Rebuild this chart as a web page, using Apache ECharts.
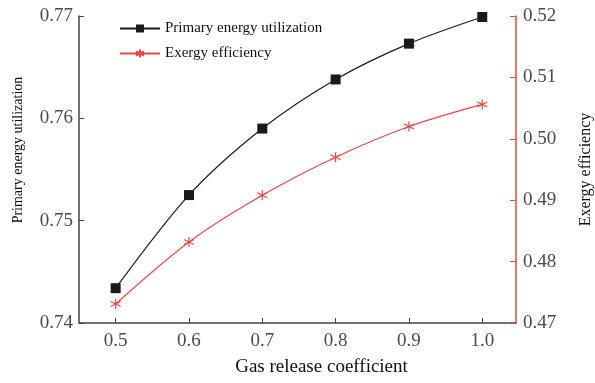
<!DOCTYPE html>
<html>
<head>
<meta charset="utf-8">
<script src="https://cdn.jsdelivr.net/npm/echarts@6/dist/echarts.min.js"></script>
<style>
  html, body { margin: 0; padding: 0; background: #fff; }
  #chart { width: 595px; height: 383px; }
</style>
</head>
<body>
<div id="chart"></div>
<script>
// Gas release coefficient (x) and the two performance indicators
const gasRelease = [0.5, 0.6, 0.7, 0.8, 0.9, 1.0];
const primaryEnergyUtilization = [0.7434, 0.7525, 0.7590, 0.7638, 0.7673, 0.7699];
const exergyEfficiency = [0.4731, 0.4832, 0.4908, 0.4970, 0.5020, 0.5056];
const xTicks = [0.5, 0.6, 0.7, 0.8, 0.9, 1.0];
const leftTicks = [0.74, 0.75, 0.76, 0.77];
const rightTicks = [0.47, 0.48, 0.49, 0.50, 0.51, 0.52];

const FONT = 'Liberation Serif';
const RED = '#e8474a';
const BLACK = '#1a1a1a';
const AXIS_GRAY = '#444';

// six-armed asterisk marker
const asterisk = 'path://M0,-5L0,5M-4.33,-2.5L4.33,2.5M-4.33,2.5L4.33,-2.5';

const chart = echarts.init(document.getElementById('chart'), null, { renderer: 'canvas' });

chart.setOption({
  backgroundColor: '#fff',
  animation: false,
  grid: { left: 79, right: 79, top: 16, bottom: 60, outerBoundsMode: 'none', containLabel: false },
  legend: {
    left: 114, top: 16,
    orient: 'vertical',
    itemWidth: 40, itemHeight: 10, itemGap: 10,
    textStyle: { fontFamily: FONT, fontSize: 15, color: '#111' },
    data: ['Primary energy utilization', 'Exergy efficiency']
  },
  xAxis: {
    type: 'value',
    min: 0.45, max: 1.046,
    name: 'Gas release coefficient',
    nameLocation: 'middle',
    nameGap: 35,
    nameTextStyle: { fontFamily: FONT, fontSize: 19, color: '#111', padding: [0, 0, 0, 48] },
    axisLine: { show: true, lineStyle: { color: AXIS_GRAY, width: 1.5 } },
    axisTick: { show: true, inside: true, length: 5, customValues: xTicks, lineStyle: { color: AXIS_GRAY } },
    axisLabel: {
      customValues: xTicks, margin: 9,
      formatter: v => v.toFixed(1),
      fontFamily: FONT, fontSize: 19, color: '#4a4a4a'
    },
    splitLine: { show: false }
  },
  yAxis: [
    {
      type: 'value', position: 'left',
      min: 0.74, max: 0.77, interval: 0.01,
      name: 'Primary energy utilization',
      nameLocation: 'middle', nameRotate: 90, nameGap: 54,
      nameTextStyle: { fontFamily: FONT, fontSize: 14, color: '#111', padding: [0, 0, 0, 39] },
      axisLine: { show: true, lineStyle: { color: AXIS_GRAY, width: 1.5 } },
      axisTick: { show: true, inside: true, length: 5, lineStyle: { color: AXIS_GRAY } },
      axisLabel: {
        margin: 6, formatter: v => v.toFixed(2),
        fontFamily: FONT, fontSize: 19, color: '#4a4a4a'
      },
      splitLine: { show: false }
    },
    {
      type: 'value', position: 'right',
      min: 0.47, max: 0.52, interval: 0.01,
      name: 'Exergy efficiency',
      nameLocation: 'middle', nameRotate: 90, nameGap: 62,
      nameTextStyle: { fontFamily: FONT, fontSize: 16, color: '#111' },
      axisLine: { show: true, lineStyle: { color: RED, width: 1.5 } },
      axisTick: { show: true, inside: true, length: 6, lineStyle: { color: RED } },
      axisLabel: {
        margin: 7, formatter: v => v.toFixed(2),
        fontFamily: FONT, fontSize: 19, color: '#4a4a4a'
      },
      splitLine: { show: false }
    }
  ],
  series: [
    {
      name: 'Primary energy utilization',
      type: 'line', yAxisIndex: 0, smooth: 0.3,
      data: gasRelease.map((x, i) => [x, primaryEnergyUtilization[i]]),
      symbol: 'rect', symbolSize: 10,
      lineStyle: { color: BLACK, width: 1.2 },
      itemStyle: { color: BLACK }
    },
    {
      name: 'Exergy efficiency',
      type: 'line', yAxisIndex: 1, smooth: 0.3,
      data: gasRelease.map((x, i) => [x, exergyEfficiency[i]]),
      symbol: asterisk, symbolSize: 10,
      lineStyle: { color: RED, width: 1.2 },
      itemStyle: { color: 'none', borderColor: RED, borderWidth: 1.2 }
    }
  ]
});
</script>
</body>
</html>
